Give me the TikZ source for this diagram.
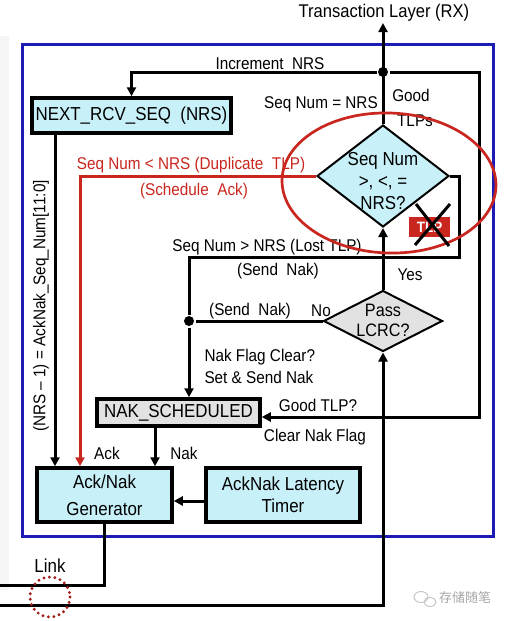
\documentclass[tikz,border=0pt]{standalone}
\usepackage{fontspec}
\setmainfont{Liberation Sans}[FakeStretch=0.9]
\newfontfamily\cjk{Noto Sans CJK SC}
\usetikzlibrary{arrows.meta,shapes.geometric}
\definecolor{boxcyan}{HTML}{C8F0F8}
\definecolor{boxgray}{HTML}{E2E2E2}
\definecolor{dupred}{HTML}{C8261E}
\definecolor{frameblue}{HTML}{1C1CB4}
\begin{document}
\begin{tikzpicture}[x=1pt, y=-1pt, line width=3pt,
  font=\fontsize{17}{22}\selectfont,
  lbl/.style={inner sep=0pt},
  redlbl/.style={inner sep=0pt, text=dupred},
  big/.style={font=\fontsize{18.8}{22}\selectfont},
  blk/.style={draw, line width=3.5pt, inner sep=0pt, big},
  dia/.style={diamond, draw, line width=2pt, inner sep=0pt},
  dot/.style={circle, fill, inner sep=0pt, minimum size=10pt},
  wire/.style={line width=3pt},
  redwire/.style={line width=3pt, draw=dupred},
  arr/.style={-{Triangle[length=9pt,width=9pt]}}]
  \useasboundingbox (0,0) rectangle (504,621);
  \fill[gray!8] (0,36) rectangle (9,590);
  % frame of the data link layer
  \draw[frameblue, line width=3pt] (22,44) rectangle (493,536);
  \node[lbl, font=\fontsize{18.4}{22}\selectfont] (tl) at (384,13) {Transaction Layer (RX)};
  \coordinate (up) at (383,23);
  \coordinate (rt) at (479,72);
  \coordinate (lost) at (459,257);
  \coordinate (inl) at (0,605);
  \coordinate (lnk) at (0,585);
  % blocks
  \node[blk, fill=boxcyan, minimum width=199, minimum height=35] (nrs) at (131.5,115.5) {NEXT\_RCV\_SEQ\ \ (NRS)};
  \node[dia, fill=boxcyan, minimum width=132, minimum height=102] (seq) at (383,176) {};
  \node[lbl, align=center, font=\fontsize{18.8}{22}\selectfont] at (383,181) {Seq Num\\>, <, =\\NRS?};
  \node[dia, fill=boxgray, minimum width=119, minimum height=61] (lcrc) at (383,321) {};
  \node[lbl, align=center, font=\fontsize{18}{20}\selectfont] at (383,320) {Pass\\LCRC?};
  \node[blk, fill=boxgray, minimum width=163, minimum height=27] (nak) at (178.5,412.5) {NAK\_SCHEDULED};
  \node[blk, fill=boxcyan, minimum width=135, minimum height=54, align=center, font=\fontsize{18.8}{27}\selectfont] (gen) at (104.5,495) {Ack/Nak\\Generator};
  \node[blk, fill=boxcyan, minimum width=154, minimum height=54, align=center] (tmr) at (283,495) {AckNak Latency\\Timer};
  \node[dot] (jn) at (383,72) {};
  \node[dot] (nd) at (189,321) {};
  \coordinate (seqin) at ([xshift=-49.5pt]gen.north);
  \coordinate (ackin) at ([xshift=-24.5pt]gen.north);
  \coordinate (nakout) at ([xshift=-23.5pt]nak.south);
  % connectors
  \draw[wire, arr] (seq.north) -- (up);
  \draw[wire, arr] (jn) -| (nrs.north);
  \draw[wire, arr] (jn) -- (rt) |- ([yshift=-4.5pt]nak.east);
  \draw[redwire, arr] (seq.west) -| (ackin);
  \draw[wire, arr] (seqin |- nrs.south) -- (seqin);
  \draw[wire, arr] (seq.east) -| (lost) -| (nd) -- (nd |- nak.north);
  \draw[wire] (lcrc.west) -- (nd);
  \draw[wire, arr] (lcrc.north) -- (seq.south);
  \draw[wire, arr] (inl) -| (lcrc.south);
  \draw[wire, arr] (nakout) -- (nakout |- gen.north);
  \draw[wire, arr] ([yshift=-6pt]tmr.west) -- ([yshift=-6pt]gen.east);
  \draw[wire] (gen.south) |- (lnk);
  % labels
  \node[lbl] at (270,64) {Increment\ \ NRS};
  \node[lbl] at (321,104) {Seq Num = NRS};
  \node[lbl] at (411,95) {Good};
  \node[lbl] at (415,121) {TLPs};
  \node[redlbl] at (191,165) {Seq Num < NRS (Duplicate\ \ TLP)};
  \node[redlbl] at (194,191) {(Schedule\ \ Ack)};
  \node[lbl] at (267,247) {Seq Num > NRS (Lost TLP)};
  \node[lbl] at (278,271) {(Send\ \ Nak)};
  \node[lbl] at (410,275) {Yes};
  \node[lbl] at (250,311) {(Send\ \ Nak)};
  \node[lbl] at (321,311) {No};
  \node[lbl, anchor=west] at (203,357) {Nak Flag Clear?};
  \node[lbl, anchor=west] at (203,377) {Set \& Send Nak};
  \node[lbl] at (318,405) {Good TLP?};
  \node[lbl] at (315,437) {Clear Nak Flag};
  \node[lbl] at (107,453) {Ack};
  \node[lbl] at (184,453) {Nak};
  \node[lbl, rotate=90] at (41,306) {(NRS -- 1) = AckNak\_Seq\_Num[11:0]};
  \node[lbl, big] at (50,566) {Link};
  % highlight marks
  \draw[dupred, line width=2.7pt, rotate around={-2:(389,183)}] (389,183) ellipse [x radius=107, y radius=70];
  \node[fill=dupred, text=white, inner sep=0pt, minimum width=41, minimum height=20, font=\fontsize{15}{15}\selectfont\bfseries] (tlp) at (429.5,227) {TLP};
  \draw[line width=3pt] (416,204) -- (449,246);
  \draw[line width=3pt] (450,204) -- (415,245);
  \draw[dupred!80!black, line width=3.2pt, line cap=round, dash pattern=on 0pt off 5.5pt] (50,597) circle [radius=20];
  % watermark
  \draw[gray!45, line width=1pt] (421,597) ellipse [x radius=7, y radius=5.5];
  \draw[gray!45, line width=1pt] (430,602) ellipse [x radius=6, y radius=4.5];
  \node[lbl, text=gray!70, font=\cjk\fontsize{13}{13}\selectfont] (wm) at (465,598) {存储随笔};
\end{tikzpicture}
\end{document}
